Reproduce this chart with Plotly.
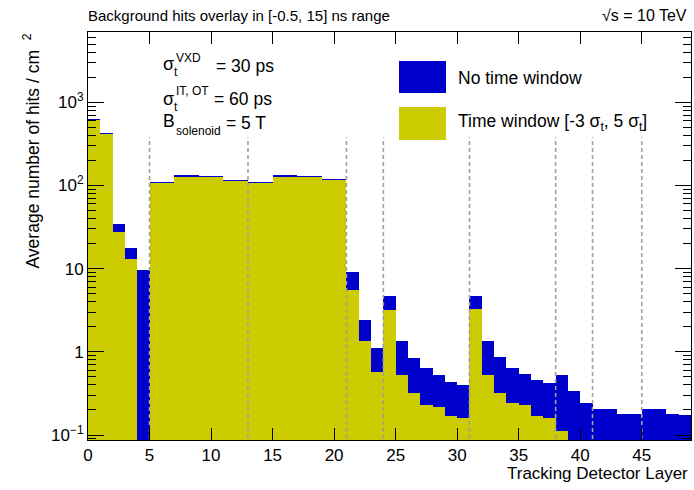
import plotly.graph_objects as go

# ---------------- data ----------------
layers = list(range(49))
no_time_window = [630, 424, 34.2, 17.6, 9.6,
                  110, 110, 132.7, 132.7, 130, 130, 117.5, 117.5,
                  110, 110, 133.7, 133.7, 130, 130, 119.7, 119.7,
                  9.05, 2.42, 1.10, 4.74, 1.35, 0.838, 0.635, 0.527, 0.438, 0.400,
                  4.74, 1.36, 0.875, 0.646, 0.538, 0.459, 0.420, 0.523, 0.342,
                  0.243, 0.204, 0.207, 0.178, 0.178, 0.204, 0.207, 0.178, 0.176]
time_window = [611, 410, 27.4, 13.1, None,
               105.5, 105.5, 127.5, 127.5, 125, 125, 113, 113,
               105.5, 105.5, 128, 128, 125, 125, 115, 115,
               5.55, 1.36, 0.578, 3.19, 0.523, 0.324, 0.230, 0.216, 0.170, 0.162,
               3.25, 0.523, 0.324, 0.241, 0.230, 0.171, 0.162, 0.113, None,
               None, None, None, None, None, None, None, None, None]
boundaries = [5, 13, 21, 24, 31, 38, 41, 45]
boundary_top = 380
x_ticks = [0, 5, 10, 15, 20, 25, 30, 35, 40, 45]
y_ticks = [0.1, 1, 10, 100, 1000]
y_ticktext = ["10<sup>\u22121</sup>", "1", "10", "10<sup>2</sup>", "10<sup>3</sup>"]

BLUE = "#0000cc"
YELLOW = "#cccc00"
FONT = "Liberation Sans, Arial, Helvetica, sans-serif"

# figure geometry (pixels)
W, H = 694, 490
L, R, T, B = 88, 691, 32, 440


def px(x):
    return (x - L) / (R - L)


def py(y):
    return (B - y) / (B - T)


fig = go.Figure()
centers = [l + 0.5 for l in layers]
fig.add_trace(go.Bar(x=centers, y=no_time_window, width=1, marker=dict(color=BLUE, line=dict(width=0)),
                     showlegend=False))
fig.add_trace(go.Bar(x=centers, y=time_window, width=1, marker=dict(color=YELLOW, line=dict(width=0)),
                     showlegend=False))

lx, ly = [], []
for b in boundaries:
    lx += [b, b, None]
    ly += [0.05, boundary_top, None]
fig.add_trace(go.Scatter(x=lx, y=ly, mode="lines", line=dict(color="#a0a0a0", width=1.6, dash="4px,3px"),
                         showlegend=False, hoverinfo="skip"))

minor_vals = []
for d in [0.01, 0.1, 1, 10, 100, 1000]:
    for k in range(2, 10):
        minor_vals.append(k * d)

fig.update_layout(
    width=W, height=H,
    margin=dict(l=L, r=W - R, t=T, b=H - B),
    paper_bgcolor="white", plot_bgcolor="white",
    barmode="overlay", bargap=0,
    font=dict(family=FONT, color="black", size=17),
    xaxis=dict(range=[0, 49], tickvals=x_ticks, ticks="inside", ticklen=12, tickcolor="black",
               showline=True, linecolor="black", linewidth=1, mirror="ticks",
               showgrid=False, zeroline=False, tickfont=dict(size=17)),
    yaxis=dict(type="log", range=[-1.06, 3.844], tickvals=y_ticks, ticktext=y_ticktext,
               ticks="inside", ticklen=16, tickcolor="black",
               minor=dict(tickvals=minor_vals, ticks="inside", ticklen=8, tickcolor="black"),
               showline=True, linecolor="black", linewidth=1, mirror="ticks",
               showgrid=False, zeroline=False, tickfont=dict(size=17)),
)

ann = []


def text(x, y, s, size=17.5, xanchor="left", yanchor="middle", angle=0):
    ann.append(dict(x=px(x), y=py(y), xref="paper", yref="paper", text=s, showarrow=False,
                    xanchor=xanchor, yanchor=yanchor, textangle=angle,
                    font=dict(size=size, family=FONT, color="black")))


text(86, 16, "Background hits overlay in [-0.5, 15] ns range", size=15)
text(689, 16, "\u221as = 10 TeV", size=16, xanchor="right")
text(690, 474, "Tracking Detector Layer", size=17, xanchor="right")
text(31, 32, "Average number of hits / cm\u00a0\u00a0<sup>2</sup>", size=17.5, xanchor="center",
     yanchor="top", angle=-90)

# annotations with stacked sub/superscripts
text(161, 64, "\u03c3", size=18)
text(172, 72, "t", size=12)
text(174, 58, "VXD", size=12)
text(214, 66, "= 30 ps", size=17.5)
text(161, 99, "\u03c3", size=18)
text(172, 107, "t", size=12)
text(174, 91, "IT, OT", size=12)
text(212, 99, "= 60 ps", size=17.5)
text(161, 121, "B", size=17.5)
text(174, 131, "solenoid", size=12)
text(224, 123, "= 5 T", size=17.5)

# legend
shapes = [
    dict(type="rect", xref="paper", yref="paper", x0=px(399), x1=px(446), y0=py(93), y1=py(61),
         fillcolor=BLUE, line=dict(width=0)),
    dict(type="rect", xref="paper", yref="paper", x0=px(399), x1=px(446), y0=py(140), y1=py(107),
         fillcolor=YELLOW, line=dict(width=0)),
]
text(456, 78, "No time window", size=17.5)
text(456, 122, "Time window [-3 \u03c3<sub>t</sub>, 5 \u03c3<sub>t</sub>]", size=17.5)

fig.update_layout(annotations=ann, shapes=shapes)
fig.write_html("out.html")
